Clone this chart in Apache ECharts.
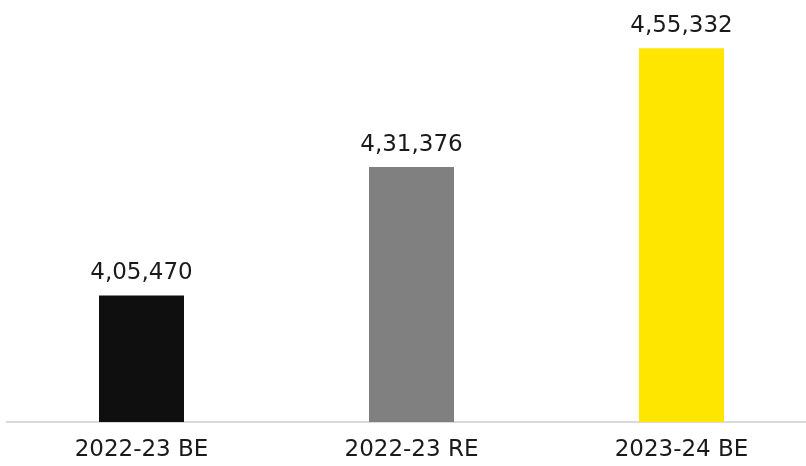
<!DOCTYPE html>
<html>
<head>
<meta charset="utf-8">
<script src="https://cdn.jsdelivr.net/npm/echarts@6/dist/echarts.min.js"></script>
<style>html,body{margin:0;padding:0;background:#fff}#c{width:806px;height:466px}</style>
</head>
<body>
<div id="c"></div>
<script>
const categories = ['2022-23 BE', '2022-23 RE', '2023-24 BE'];
const values = [405470, 431376, 455332];
const barColors = ['#0f0f0f', '#808080', '#ffe600'];

function fmtIN(n) {
  const s = String(n);
  if (s.length <= 3) return s;
  const last3 = s.slice(-3);
  let rest = s.slice(0, -3);
  const parts = [];
  while (rest.length > 2) { parts.unshift(rest.slice(-2)); rest = rest.slice(0, -2); }
  if (rest) parts.unshift(rest);
  return parts.join(',') + ',' + last3;
}

const chart = echarts.init(document.getElementById('c'));
chart.setOption({
  animation: false,
  grid: { left: 6.5, width: 810, top: 25, bottom: 44, containLabel: false, outerBoundsMode: 'none' },
  xAxis: {
    type: 'category',
    data: categories,
    axisLine: { lineStyle: { color: '#d9d9d9', width: 2 } },
    axisTick: { show: false },
    axisLabel: { color: '#1a1a1a', fontFamily: 'DejaVu Sans', fontSize: 23, margin: 17 }
  },
  yAxis: {
    type: 'value', min: 380000, max: 460000, show: false, splitLine: { show: false }
  },
  series: [{
    type: 'bar',
    barWidth: 85,
    data: values.map((v, i) => ({ value: v, itemStyle: { color: barColors[i] } })),
    label: {
      show: true, position: 'top', distance: 11,
      color: '#1a1a1a', fontFamily: 'DejaVu Sans', fontSize: 23,
      formatter: p => fmtIN(p.value)
    }
  }]
});
</script>
</body>
</html>
